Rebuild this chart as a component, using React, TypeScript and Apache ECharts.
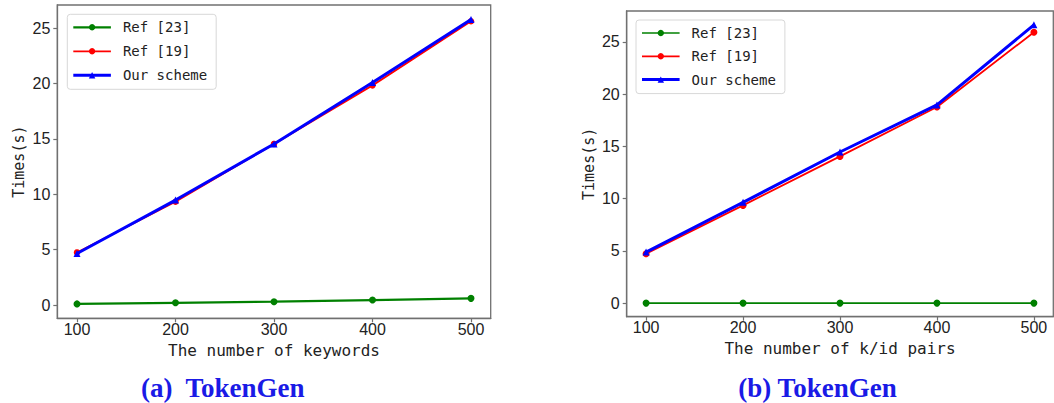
import React, { useEffect, useRef } from "react";
import * as echarts from "echarts";

const xValues = [100, 200, 300, 400, 500];
const aRef23 = [0.1, 0.2, 0.3, 0.45, 0.6];
const aRef19 = [4.75, 9.33, 14.55, 19.84, 25.63];
const aOurs = [4.65, 9.48, 14.55, 20.1, 25.79];
const bRef23 = [0, 0, 0, 0, 0];
const bRef19 = [4.72, 9.35, 14.04, 18.77, 25.92];
const bOurs = [4.88, 9.64, 14.46, 18.96, 26.63];
const yTicks = [0, 5, 10, 15, 20, 25];
const seriesNames = ["Ref [23]", "Ref [19]", "Our scheme"];
const xTitles = ["The number of keywords", "The number of k/id pairs"];
const yTitle = "Times(s)";
const captions = ["(a)  TokenGen", "(b) TokenGen"];

const GREEN = "#008000";
const RED = "#ff0000";
const BLUE = "#0000ff";
const FRAME = "#707070";
const TEXT = "#222222";
const MONO = "'DejaVu Sans Mono', monospace";
const SANS = "'Liberation Sans', Arial, sans-serif";

const pairs = (ys: number[]) => xValues.map((x, i) => [x, ys[i]]);

export default function App() {
  const ref = useRef<HTMLDivElement>(null);
  useEffect(() => {
    if (!ref.current) return;
    const chart = echarts.init(ref.current, null, { renderer: "svg" });

    const grids = [
      { left: 57.3, top: 5, width: 433.4, height: 313.3 },
      { left: 626.7, top: 11, width: 426.6, height: 305.7 },
    ];
    const yRanges = [
      [-1.2, 27.1],
      [-1.3, 27.95],
    ];
    const xNameGaps = [22, 24];
    const yNameGaps = [31, 30];

    const xAxis = grids.map((_, i) => ({
      type: "value",
      gridIndex: i,
      min: 80,
      max: 520,
      name: xTitles[i],
      nameLocation: "middle",
      nameGap: xNameGaps[i],
      nameTextStyle: { fontFamily: MONO, fontSize: 16, color: TEXT, verticalAlign: "top" },
      axisLine: { show: true, onZero: false, lineStyle: { color: FRAME, width: 1.3 } },
      axisTick: { show: true, length: 4, customValues: xValues, lineStyle: { color: FRAME, width: 1.2 } },
      axisLabel: { customValues: xValues, margin: 3, fontFamily: SANS, fontSize: 16, color: TEXT },
      splitLine: { show: false },
    }));

    const yAxis = grids.map((_, i) => ({
      type: "value",
      gridIndex: i,
      min: yRanges[i][0],
      max: yRanges[i][1],
      name: yTitle,
      nameLocation: "middle",
      nameRotate: 90,
      nameGap: yNameGaps[i],
      nameTextStyle: { fontFamily: MONO, fontSize: 15, color: TEXT },
      axisLine: { show: true, onZero: false, lineStyle: { color: FRAME, width: 1.3 } },
      axisTick: { show: true, length: 4, customValues: yTicks, lineStyle: { color: FRAME, width: 1.2 } },
      axisLabel: { customValues: yTicks, margin: 7, fontFamily: SANS, fontSize: 16, color: TEXT },
      splitLine: { show: false },
    }));

    const data = [
      [aRef23, aRef19, aOurs],
      [bRef23, bRef19, bOurs],
    ];
    const styles = [
      [
        { color: GREEN, width: 2.2, symbol: "circle", size: 7 },
        { color: RED, width: 1.8, symbol: "circle", size: 6.5 },
        { color: BLUE, width: 3, symbol: "triangle", size: 7 },
      ],
      [
        { color: GREEN, width: 1.6, symbol: "circle", size: 7 },
        { color: RED, width: 1.8, symbol: "circle", size: 7 },
        { color: BLUE, width: 3, symbol: "triangle", size: 7 },
      ],
    ];

    const series: any[] = [];
    data.forEach((group, gi) => {
      group.forEach((ys, si) => {
        const st = styles[gi][si];
        series.push({
          type: "line",
          name: seriesNames[si],
          xAxisIndex: gi,
          yAxisIndex: gi,
          data: pairs(ys),
          symbol: st.symbol,
          symbolSize: st.size,
          showSymbol: true,
          lineStyle: { color: st.color, width: st.width },
          itemStyle: { color: st.color },
          z: 2 + si,
        });
      });
    });

    const legendPos = [
      { left: 67.3, top: 14.3, gap: 10 },
      { left: 636, top: 20, gap: 9.3 },
    ];
    const legend = legendPos.map((p, gi) => ({
      left: p.left,
      top: p.top,
      orient: "vertical",
      itemWidth: 37.6,
      itemHeight: 8,
      itemGap: p.gap,
      padding: [6, 9, 7, 4.5],
      backgroundColor: "rgba(255,255,255,0.85)",
      borderColor: "#d8d8d8",
      borderWidth: 1,
      borderRadius: 3,
      selectedMode: false,
      textStyle: { fontFamily: MONO, fontSize: 14, color: TEXT, lineHeight: 14, padding: [0, 0, 0, 7] },
      data: seriesNames.map((n, si) => ({
        name: n,
        lineStyle: { color: styles[gi][si].color, width: styles[gi][si].width },
        itemStyle: { color: styles[gi][si].color },
      })),
    }));

    const captionX = [222.8, 817.5];
    const graphic = captions.map((c, i) => ({
      type: "text",
      x: captionX[i],
      y: 388,
      style: {
        text: c,
        fill: "#1a1ae6",
        font: "bold 27px 'Liberation Serif', 'Times New Roman', serif",
        textAlign: "center",
        textVerticalAlign: "middle",
      },
    }));

    chart.setOption({
      animation: false,
      backgroundColor: "#ffffff",
      grid: grids.map((g) => ({ ...g, show: true, borderColor: FRAME, borderWidth: 1.3, backgroundColor: "transparent" })),
      xAxis,
      yAxis,
      legend,
      series,
      graphic,
    } as any);

    return () => chart.dispose();
  }, []);

  return (
    <div
      ref={ref}
      style={{ position: "fixed", left: 0, top: 0, width: 1054, height: 403, background: "#fff" }}
    />
  );
}
